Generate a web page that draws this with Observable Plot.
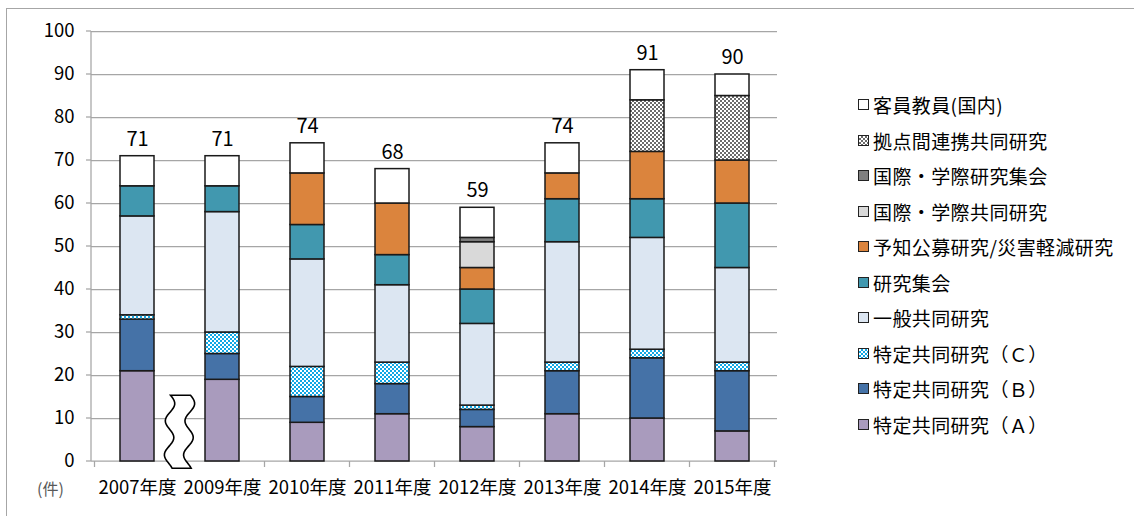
<!DOCTYPE html>
<html><head><meta charset="utf-8">
<script src="https://cdn.jsdelivr.net/npm/d3@7"></script>
<script src="https://cdn.jsdelivr.net/npm/@observablehq/plot@0.6"></script>
<style>
body{margin:0;background:#fff;font-family:"Noto Sans CJK JP",sans-serif;}
#wrap{position:relative;width:1134px;height:516px;overflow:hidden;background:#fff;}
#chart{position:absolute;left:0;top:0;}
#frame{position:absolute;left:6px;top:8px;width:1140px;height:520px;border-top:1px solid #a6a6a6;border-left:1px solid #a6a6a6;pointer-events:none;}
#legend{position:absolute;left:858px;top:87px;}
.row{height:35.5px;display:flex;align-items:center;font-size:19px;letter-spacing:0.4px;color:#000;white-space:nowrap;}
.sw{width:9px;height:9px;border:1px solid #222;margin-right:4px;flex:none;}
#unit{position:absolute;left:37px;top:476px;font-size:16px;color:#595959;}
</style></head><body>
<div id="wrap"><div id="chart"></div><div id="legend"></div><div id="unit">(件)</div><div id="frame"></div></div>
<script>
// ---- data ----
const years = ["2007年度","2009年度","2010年度","2011年度","2012年度","2013年度","2014年度","2015年度"];
const seriesNames = ["特定共同研究（Ａ）","特定共同研究（Ｂ）","特定共同研究（Ｃ）","一般共同研究","研究集会","予知公募研究/災害軽減研究","国際・学際共同研究","国際・学際研究集会","拠点間連携共同研究","客員教員(国内)"];
const tokuteiA      = [21,19, 9,11, 8,11,10, 7];
const tokuteiB      = [12, 6, 6, 7, 4,10,14,14];
const tokuteiC      = [ 1, 5, 7, 5, 1, 2, 2, 2];
const ippan         = [23,28,25,18,19,28,26,22];
const kenkyuShukai  = [ 7, 6, 8, 7, 8,10, 9,15];
const yochi         = [ 0, 0,12,12, 5, 6,11,10];
const kokusaiKyodo  = [ 0, 0, 0, 0, 6, 0, 0, 0];
const kokusaiShukai = [ 0, 0, 0, 0, 1, 0, 0, 0];
const kyoten        = [ 0, 0, 0, 0, 0, 0,12,15];
const kyakuin       = [ 7, 7, 7, 8, 7, 7, 7, 5];
const yTicks = [0,10,20,30,40,50,60,70,80,90,100];

const seriesValues = [tokuteiA,tokuteiB,tokuteiC,ippan,kenkyuShukai,yochi,kokusaiKyodo,kokusaiShukai,kyoten,kyakuin];
const fills = ["#a99bbd","#4572a7","url(#patC)","#dce6f2","#4198af","#db843d","#d9d9d9","#7f7f7f","url(#patK)","#ffffff"];
const cssFills = ["#a99bbd","#4572a7","repeating-conic-gradient(#10a8e6 0 25%, #fff 0 50%) 0 0/4px 4px","#dce6f2","#4198af","#db843d","#d9d9d9","#7f7f7f","repeating-conic-gradient(#6b6b6b 0 25%, #fff 0 50%) 0 0/4px 4px","#ffffff"];

const rows = [];
seriesNames.forEach((s, si) => years.forEach((y, yi) => {
  const v = seriesValues[si][yi];
  if (v > 0) rows.push({year: y, series: s, value: v});
}));
const totals = years.map((y, yi) => d3.sum(seriesValues, a => a[yi]));

const GRID = "#a6a6a6";
const NS = "http://www.w3.org/2000/svg";

function defsMark() {
  const defs = d3.create("svg:defs");
  const mk = (id, col) => {
    const p = defs.append("pattern").attr("id", id).attr("patternUnits", "userSpaceOnUse").attr("width", 4).attr("height", 4);
    p.append("rect").attr("width", 4).attr("height", 4).attr("fill", "#fff");
    p.append("rect").attr("width", 2).attr("height", 2).attr("fill", col);
    p.append("rect").attr("x", 2).attr("y", 2).attr("width", 2).attr("height", 2).attr("fill", col);
  };
  mk("patC", "#10a8e6");
  mk("patK", "#6b6b6b");
  return defs.node();
}

function axesMark(index, scales, values, dims) {
  const x = scales.x, y = scales.y;
  const g = d3.create("svg:g").attr("stroke", GRID).attr("stroke-width", 1.25).attr("fill", "none");
  const left = dims.marginLeft, right = dims.width - dims.marginRight;
  const y0 = y(0), yTop = y(100);
  g.append("line").attr("x1", left).attr("x2", left).attr("y1", yTop).attr("y2", y0);
  yTicks.forEach(t => g.append("line").attr("x1", left - 5).attr("x2", left).attr("y1", y(t)).attr("y2", y(t)));
  g.append("line").attr("x1", left).attr("x2", right).attr("y1", y0).attr("y2", y0);
  const bw = x.bandwidth ? x.bandwidth() : 0;
  const step = x(years[1]) - x(years[0]);
  const edges = [x(years[0]) + bw / 2 - step / 2, ...years.map(c => x(c) + bw / 2 + step / 2)];
  edges.forEach(e => g.append("line").attr("x1", e).attr("x2", e).attr("y1", y0).attr("y2", y0 + 6));
  return g.node();
}

function breakMark(index, scales, values, dims) {
  const x = scales.x, y = scales.y;
  const bw = x.bandwidth ? x.bandwidth() : 0;
  const cx = (x(years[0]) + x(years[1])) / 2 + bw / 2;
  const yt = y(15.3), yb = y(-1.7);
  const n = 40, pts = [];
  for (let i = 0; i <= n; i++) {
    const yy = yt + (yb - yt) * i / n;
    pts.push([cx - 9 + 4.5 * Math.sin((yy - yt) / 34 * 2 * Math.PI) - 2 * i / n, yy]);
  }
  const right = [];
  for (let i = n; i >= 0; i--) {
    const yy = yt + (yb - yt) * i / n;
    right.push([cx + 11 + 4.5 * Math.sin((yy - yt) / 34 * 2 * Math.PI) - 3 * i / n, yy]);
  }
  const d = "M" + pts.map(p => p.join(",")).join("L") + "L" + right.map(p => p.join(",")).join("L") + "Z";
  const path = document.createElementNS(NS, "path");
  path.setAttribute("d", d);
  path.setAttribute("fill", "#fff");
  path.setAttribute("stroke", "#000");
  path.setAttribute("stroke-width", 1.6);
  return path;
}

const chart = Plot.plot({
  width: 1134, height: 516,
  marginLeft: 91, marginRight: 357, marginTop: 31, marginBottom: 55,
  style: {fontFamily: '"Noto Sans CJK JP", sans-serif', fontSize: "18.5px", color: "#000", background: "transparent", overflow: "visible"},
  x: {domain: years, paddingInner: 0.6, paddingOuter: 0.3, align: 0.5, label: null, tickSize: 0, tickPadding: 19},
  y: {domain: [0, 100], ticks: yTicks, tickSize: 0, tickPadding: 17, label: null},
  color: {domain: seriesNames, range: fills},
  marks: [
    defsMark,
    Plot.ruleY(yTicks.filter(t => t > 0), {y: d => d, stroke: GRID, strokeWidth: 1.25, strokeOpacity: 1}),
    axesMark,
    Plot.barY(rows, {x: "year", y: "value", fill: "series", stroke: "#1a1a1a", strokeWidth: 1.5}),
    breakMark,
    Plot.text(years, {x: d => d, y: (d, i) => totals[i], text: (d, i) => String(totals[i]), dy: -17, fontSize: 20, fill: "#000"})
  ]
});
document.getElementById("chart").appendChild(chart);

const legend = document.getElementById("legend");
for (let i = seriesNames.length - 1; i >= 0; i--) {
  const r = document.createElement("div");
  r.className = "row";
  const sw = document.createElement("div");
  sw.className = "sw";
  sw.style.background = cssFills[i];
  const t = document.createElement("span");
  t.textContent = seriesNames[i];
  r.appendChild(sw); r.appendChild(t);
  legend.appendChild(r);
}
</script>
</body></html>
